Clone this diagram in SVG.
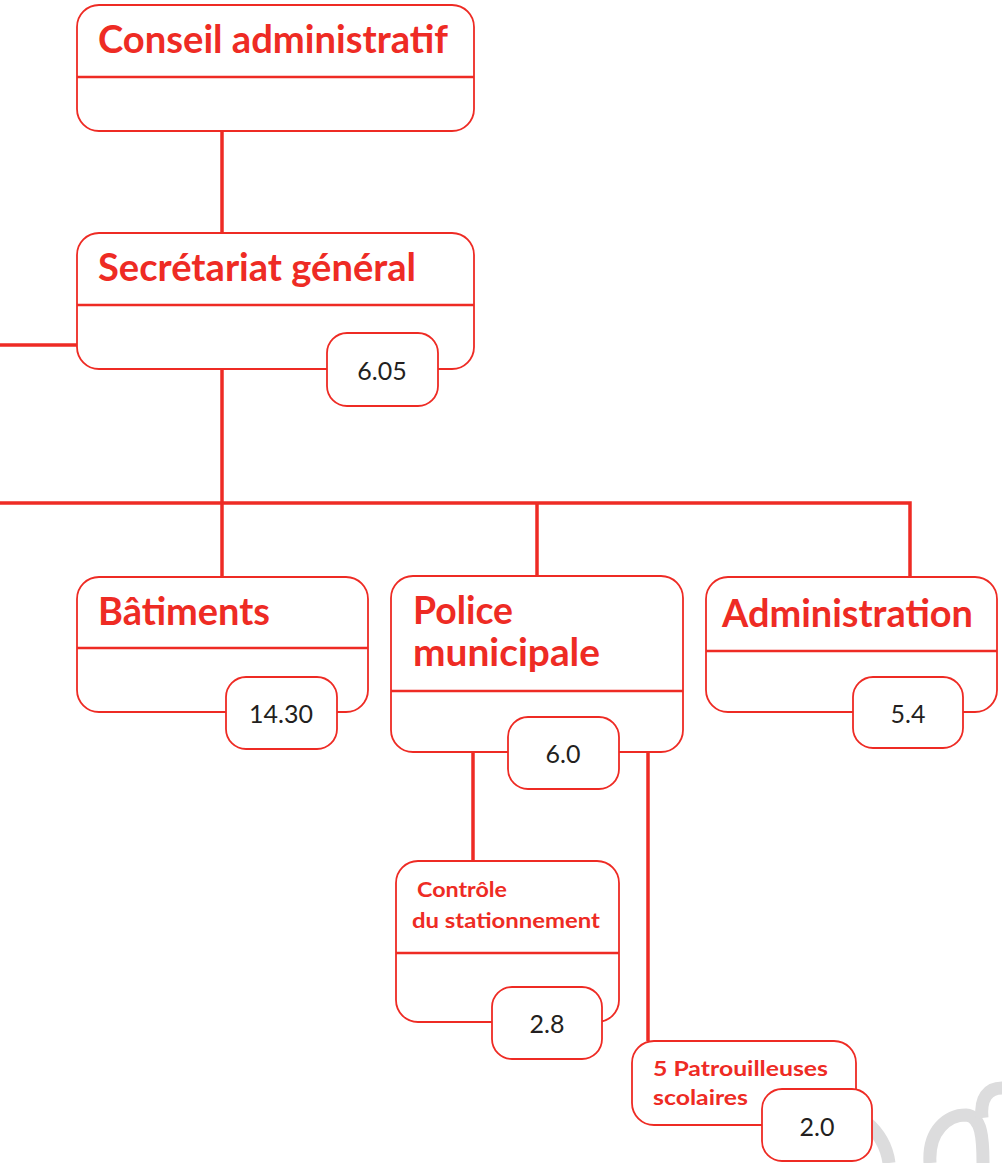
<svg xmlns="http://www.w3.org/2000/svg" width="1002" height="1163" viewBox="0 0 1002 1163">
<style>
.box{fill:#fff;stroke:#ee2b24;stroke-width:1.8}
.div{stroke:#ee2b24;stroke-width:2.6}
.badge{fill:#fff;stroke:#ee2b24;stroke-width:1.8}
.con{fill:none;stroke:#ee2b24;stroke-width:3.5}
.t{font-family:Lato,"Open Sans",sans-serif;font-weight:bold;fill:#ee2b24}
.big{font-size:39px}
.sm{font-size:21px}
.n{font-family:Lato,"Open Sans",sans-serif;font-size:25px;fill:#231f20;text-anchor:middle}
.wm{fill:none;stroke:#dcdcdd;stroke-width:13}
</style>
<rect width="1002" height="1163" fill="#fff"/>
<g id="watermark">
<path class="wm" d="M866 1122 C879 1133 887 1148 889 1163"/>
<path class="wm" d="M930 1163 C928 1130 948 1115 966 1115 C982 1116 983 1140 983 1163"/>
<path class="wm" d="M1002 1088 C988 1088 980 1098 982 1118"/>
</g>
<g id="connectors">
<line class="con" x1="222" y1="131" x2="222" y2="233"/>
<line class="con" x1="0" y1="345" x2="77" y2="345"/>
<line class="con" x1="222" y1="369" x2="222" y2="577"/>
<polyline class="con" points="0,503 910,503 910,577"/>
<line class="con" x1="537" y1="503" x2="537" y2="577"/>
<line class="con" x1="473" y1="752" x2="473" y2="861"/>
<line class="con" x1="648" y1="752" x2="648" y2="1041"/>
</g>
<g id="conseil">
<rect class="box" x="77" y="5" width="397" height="126" rx="22"/>
<line class="div" x1="77" y1="77" x2="474" y2="77"/>
<text class="t big" x="98" y="53" textLength="350" lengthAdjust="spacingAndGlyphs">Conseil administratif</text>
</g>
<g id="secretariat">
<rect class="box" x="77" y="233" width="397" height="136" rx="22"/>
<line class="div" x1="77" y1="305" x2="474" y2="305"/>
<text class="t big" x="98" y="281" textLength="318" lengthAdjust="spacingAndGlyphs">Secrétariat général</text>
<rect class="badge" x="327" y="333" width="111" height="73" rx="20"/>
<text class="n" x="382" y="380">6.05</text>
</g>
<g id="batiments">
<rect class="box" x="77" y="577" width="291" height="135" rx="22"/>
<line class="div" x1="77" y1="648" x2="368" y2="648"/>
<text class="t big" x="98" y="625" textLength="172" lengthAdjust="spacingAndGlyphs">Bâtiments</text>
<rect class="badge" x="226" y="677" width="111" height="72" rx="20"/>
<text class="n" x="281" y="723">14.30</text>
</g>
<g id="police">
<rect class="box" x="391" y="576" width="292" height="176" rx="22"/>
<line class="div" x1="391" y1="691" x2="683" y2="691"/>
<text class="t big" x="413" y="624" textLength="100" lengthAdjust="spacingAndGlyphs">Police</text>
<text class="t big" x="413" y="666" textLength="187" lengthAdjust="spacingAndGlyphs">municipale</text>
<rect class="badge" x="508" y="717" width="111" height="72" rx="20"/>
<text class="n" x="563" y="763">6.0</text>
</g>
<g id="administration">
<rect class="box" x="706" y="577" width="291" height="135" rx="22"/>
<line class="div" x1="706" y1="651" x2="997" y2="651"/>
<text class="t big" x="722" y="627" textLength="251" lengthAdjust="spacingAndGlyphs">Administration</text>
<rect class="badge" x="853" y="677" width="110" height="71" rx="20"/>
<text class="n" x="908" y="723">5.4</text>
</g>
<g id="controle">
<rect class="box" x="396" y="861" width="223" height="161" rx="22"/>
<line class="div" x1="396" y1="953" x2="619" y2="953"/>
<text class="t sm" x="417" y="897" textLength="90" lengthAdjust="spacingAndGlyphs">Contrôle</text>
<text class="t sm" x="412" y="928" textLength="188" lengthAdjust="spacingAndGlyphs">du stationnement</text>
<rect class="badge" x="492" y="987" width="110" height="72" rx="20"/>
<text class="n" x="547" y="1033">2.8</text>
</g>
<g id="patrouilleuses">
<rect class="box" x="632" y="1041" width="224" height="84" rx="22"/>
<text class="t sm" x="653" y="1076" textLength="175" lengthAdjust="spacingAndGlyphs">5 Patrouilleuses</text>
<text class="t sm" x="653" y="1105" textLength="95" lengthAdjust="spacingAndGlyphs">scolaires</text>
<rect class="badge" x="762" y="1089" width="110" height="72" rx="20"/>
<text class="n" x="817" y="1136">2.0</text>
</g>
</svg>
